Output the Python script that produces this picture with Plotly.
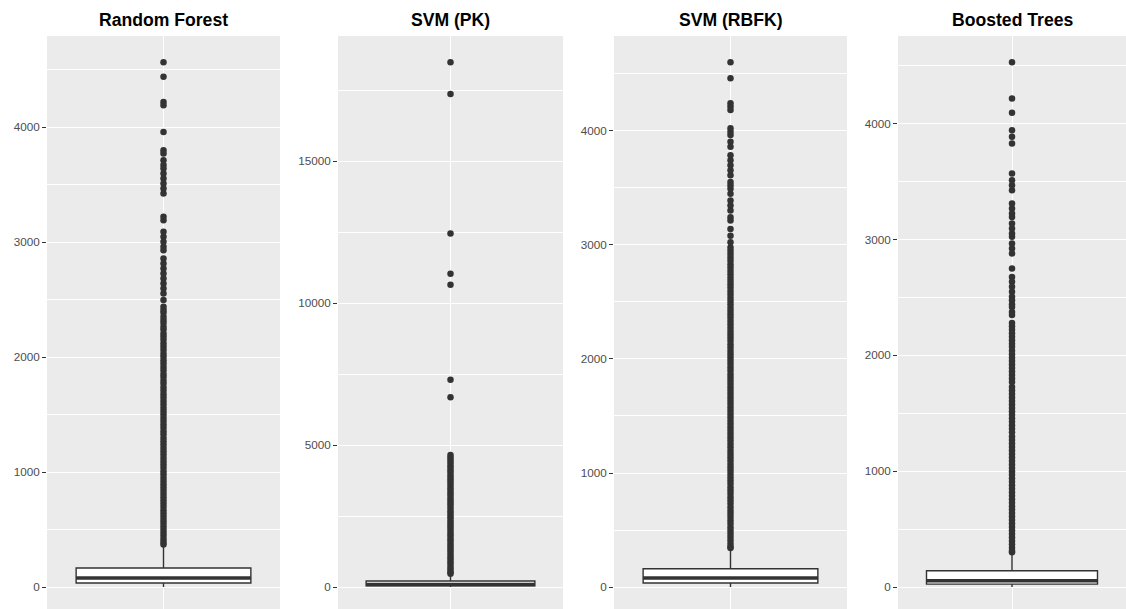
import plotly.graph_objects as go

# ---------------- data ----------------
titles = ["Random Forest", "SVM (PK)", "SVM (RBFK)", "Boosted Trees"]

q1_vals = [35, 40, 35, 25]
median_vals = [78, 90, 80, 55]
q3_vals = [165, 210, 160, 140]
lower_vals = [0, 0, 0, 0]
upper_vals = [355, 460, 338, 295]

rf_outliers = [4565, 4438, 4220, 4191, 3959, 3800, 3771, 3713, 3670, 3641, 3597,
               3554, 3510, 3467, 3423, 3220, 3191, 3090, 3046, 3003, 2959, 2930,
               2858, 2814, 2771, 2728, 2684, 2641, 2597, 2554, 2496, 2438, 2410,
               2385, 2350, 2322, 2296, 2265, 2240, 2205, 2180, 2150, 2118, 2090,
               2062, 2030, 2004, 1972, 1945, 1913, 1886, 1853, 1826, 1795, 1768,
               1735, 1707, 1676, 1648, 1618, 1590, 1560, 1530, 1502, 1472, 1445,
               1413, 1386, 1355, 1328, 1297, 1268, 1240, 1210, 1182, 1152, 1123,
               1095, 1066, 1037, 1008, 980, 951, 922, 894, 866, 838, 808, 781,
               752, 724, 695, 667, 640, 611, 583, 556, 528, 500, 472, 446, 418,
               392, 370]

pk_outliers = [18480, 17360, 12450, 11030, 10640, 7300, 6680, 4650, 4560, 4470,
               4380, 4290, 4200, 4110, 4020, 3930, 3840, 3750, 3660, 3570, 3480,
               3390, 3300, 3210, 3120, 3030, 2940, 2850, 2760, 2670, 2580, 2490,
               2400, 2310, 2220, 2130, 2040, 1950, 1860, 1770, 1680, 1590, 1500,
               1410, 1320, 1230, 1140, 1050, 960, 870, 780, 690, 600, 520, 470]

rbf_outliers = [4603, 4462, 4244, 4214, 4185, 4023, 3994, 3965, 3906, 3861, 3788,
                3744, 3700, 3656, 3612, 3553, 3523, 3494, 3449, 3391, 3347, 3303,
                3244, 3214, 3140, 3082, 3023, 2979, 2950, 2921, 2890, 2862, 2831,
                2803, 2772, 2744, 2713, 2685, 2655, 2626, 2597, 2567, 2538, 2509,
                2480, 2450, 2421, 2392, 2363, 2334, 2305, 2275, 2246, 2217, 2188,
                2159, 2130, 2100, 2071, 2042, 2013, 1984, 1955, 1925, 1896, 1867,
                1838, 1809, 1780, 1750, 1721, 1692, 1663, 1634, 1605, 1575, 1546,
                1517, 1488, 1459, 1430, 1400, 1371, 1342, 1313, 1284, 1255, 1225,
                1196, 1167, 1138, 1109, 1080, 1050, 1021, 992, 963, 934, 905,
                875, 846, 817, 788, 759, 730, 700, 671, 642, 613, 584, 555, 525,
                496, 467, 438, 409, 380, 352, 342]

bt_outliers = [4530, 4217, 4093, 3943, 3886, 3828, 3569, 3512, 3468, 3425, 3311,
               3267, 3224, 3195, 3138, 3095, 3052, 3023, 2965, 2922, 2879, 2750,
               2677, 2634, 2591, 2548, 2505, 2476, 2440, 2418, 2375, 2347, 2278,
               2250, 2220, 2191, 2160, 2130, 2100, 2073, 2040, 2010, 1980, 1950,
               1920, 1890, 1860, 1830, 1800, 1770, 1726, 1696, 1666, 1636, 1606,
               1576, 1546, 1516, 1486, 1456, 1426, 1396, 1366, 1336, 1300, 1268,
               1238, 1208, 1178, 1148, 1118, 1088, 1058, 1028, 998, 968, 938,
               908, 878, 848, 818, 788, 758, 728, 698, 668, 638, 608, 578, 548,
               518, 488, 458, 428, 398, 368, 338, 310, 300]

outlier_sets = [rf_outliers, pk_outliers, rbf_outliers, bt_outliers]
major_dtick = [1000, 5000, 1000, 1000]

# ---------------- layout geometry (pixels) ----------------
W, H = 1126, 609
TOP, ZERO_Y = 36, 587
panel_px = [(47, 280), (338, 563), (614, 847), (898, 1126)]

DARK = "#333333"
FONT = "Liberation Sans, Arial, Helvetica, sans-serif"

fig = go.Figure()
annotations = []
layout_axes = {}

for i in range(4):
    n = "" if i == 0 else str(i + 1)
    xa, ya = "x" + n, "y" + n
    outs = outlier_sets[i]

    # outlier points
    fig.add_trace(go.Scatter(
        x=[1] * len(outs), y=outs, mode="markers", xaxis=xa, yaxis=ya,
        marker=dict(size=6.5, color=DARK, line=dict(width=0)),
        hoverinfo="y", showlegend=False))

    # box with precomputed stats
    fig.add_trace(go.Box(
        x=[1], q1=[q1_vals[i]], median=[median_vals[i]], q3=[q3_vals[i]],
        lowerfence=[lower_vals[i]], upperfence=[upper_vals[i]],
        width=0.9, whiskerwidth=0, boxpoints=False,
        fillcolor="white", line=dict(color=DARK, width=1.4),
        xaxis=xa, yaxis=ya, showlegend=False))

    # fattened median line
    fig.add_trace(go.Scatter(
        x=[1 - 0.45, 1 + 0.45], y=[median_vals[i], median_vals[i]],
        mode="lines", line=dict(color=DARK, width=3.5),
        xaxis=xa, yaxis=ya, showlegend=False, hoverinfo="skip"))

    # y range like ggplot (5% expansion), clipped at the bottom of the image
    vmax = max(outs)
    vmin = lower_vals[i]
    top = vmax + 0.05 * (vmax - vmin)
    ppu = (ZERO_Y - TOP) / top
    bottom = -(H - ZERO_Y) / ppu

    x0, x1 = panel_px[i]
    layout_axes["xaxis" + n] = dict(
        domain=[x0 / W, x1 / W], range=[0.4, 1.6], anchor=ya,
        tickvals=[1], showticklabels=False, ticks="",
        showgrid=True, gridcolor="white", gridwidth=1.4,
        zeroline=False, showline=False, fixedrange=True)
    layout_axes["yaxis" + n] = dict(
        domain=[0, 1], range=[bottom, top], anchor=xa,
        dtick=major_dtick[i], tick0=0, tickformat="d",
        showgrid=True, gridcolor="white", gridwidth=1.4,
        minor=dict(dtick=major_dtick[i] / 2, tick0=0, showgrid=True,
                   gridcolor="white", gridwidth=0.7, ticks=""),
        ticks="outside", ticklen=4, tickwidth=1, tickcolor=DARK,
        tickfont=dict(family=FONT, size=11.7, color="#4D4D4D"),
        zeroline=False, showline=False, fixedrange=True)

    annotations.append(dict(
        text="<b>" + titles[i] + "</b>", xref="paper", yref="paper",
        x=(x0 + x1) / 2 / W, y=1 + (TOP - 20) / (H - TOP),
        xanchor="center", yanchor="middle", showarrow=False,
        font=dict(family=FONT, size=17.6, color="black")))

fig.update_layout(
    width=W, height=H,
    margin=dict(l=0, r=0, t=TOP, b=0, pad=0),
    paper_bgcolor="white", plot_bgcolor="#EBEBEB",
    showlegend=False, annotations=annotations,
    font=dict(family=FONT),
    **layout_axes)

fig.write_html("out.html")
